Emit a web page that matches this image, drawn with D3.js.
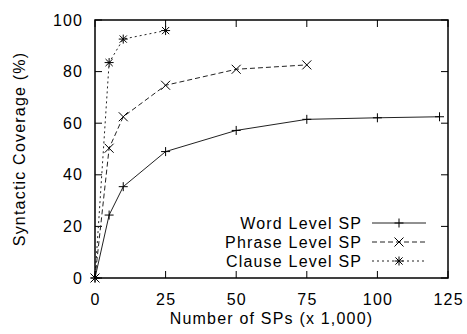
<!DOCTYPE html>
<html><head><meta charset="utf-8">
<script src="https://cdn.jsdelivr.net/npm/d3@7"></script>
<style>body{margin:0;background:#fff}svg text{font-family:"Liberation Sans",Arial,sans-serif;font-size:16px;letter-spacing:1.2px;fill:#000}</style>
</head><body>
<svg id="c" width="467" height="334"></svg>
<script>
const seriesNames = ["Word Level SP", "Phrase Level SP", "Clause Level SP"];
const wordX = [0, 5, 10, 25, 50, 75, 100, 122];
const wordY = [0, 24.4, 35.4, 49, 57.2, 61.5, 62.1, 62.5];
const phraseX = [0, 5, 10, 25, 50, 75];
const phraseY = [0, 50.3, 62.5, 74.7, 80.9, 82.6];
const clauseX = [0, 5, 10, 25];
const clauseY = [0, 83.5, 92.6, 95.9];
const xTicks = [0, 25, 50, 75, 100, 125];
const yTicks = [0, 20, 40, 60, 80, 100];

const svg = d3.select("#c");
const L = 95, R = 448, T = 20, B = 278;
const x = d3.scaleLinear().domain([0, 125]).range([L, R]);
const y = d3.scaleLinear().domain([0, 100]).range([B, T]);

const series = [
  {name: seriesNames[0], xs: wordX, ys: wordY, dash: null, marker: "plus"},
  {name: seriesNames[1], xs: phraseX, ys: phraseY, dash: "5,3", marker: "cross"},
  {name: seriesNames[2], xs: clauseX, ys: clauseY, dash: "2,3", marker: "star"}
];

function txt(px, py, s, anchor, rot) {
  return svg.append("text")
    .attr("transform", `translate(${px},${py})${rot ? " rotate(" + rot + ")" : ""}`)
    .attr("text-anchor", anchor).text(s);
}

// ticks (inward, all sides)
const tl = 7;
const g = svg.append("g").attr("stroke", "#000").attr("stroke-width", 1);
xTicks.forEach(v => {
  g.append("line").attr("x1", x(v)).attr("x2", x(v)).attr("y1", B).attr("y2", B - tl);
  g.append("line").attr("x1", x(v)).attr("x2", x(v)).attr("y1", T).attr("y2", T + tl);
});
yTicks.forEach(v => {
  g.append("line").attr("x1", L).attr("x2", L + tl).attr("y1", y(v)).attr("y2", y(v));
  g.append("line").attr("x1", R).attr("x2", R - tl).attr("y1", y(v)).attr("y2", y(v));
});

// tick labels
xTicks.forEach(v => txt(x(v) + 0.6, 305, v, "middle"));
yTicks.forEach(v => txt(83.2, y(v) + 5.5, v, "end"));

// axis titles
txt((L + R) / 2, 324.3, "Number of SPs (x 1,000)", "middle");
txt(25, (T + B) / 2, "Syntactic Coverage (%)", "middle", -90);

function drawMarker(sel, type, cx, cy) {
  const s = 4.5;
  const gg = sel.append("g").attr("stroke", "#000").attr("stroke-width", 1).attr("fill", "none");
  if (type === "plus" || type === "star") {
    gg.append("line").attr("x1", cx - s).attr("x2", cx + s).attr("y1", cy).attr("y2", cy);
    gg.append("line").attr("x1", cx).attr("x2", cx).attr("y1", cy - s).attr("y2", cy + s);
  }
  if (type === "cross" || type === "star") {
    const d = type === "star" ? s * 0.8 : s;
    gg.append("line").attr("x1", cx - d).attr("x2", cx + d).attr("y1", cy - d).attr("y2", cy + d);
    gg.append("line").attr("x1", cx - d).attr("x2", cx + d).attr("y1", cy + d).attr("y2", cy - d);
  }
}

const line = d3.line().x(d => x(d[0])).y(d => y(d[1]));
series.forEach(s => {
  const pts = s.xs.map((v, i) => [v, s.ys[i]]);
  svg.append("path").attr("d", line(pts)).attr("fill", "none").attr("stroke", "#222")
    .attr("stroke-width", 1).attr("stroke-dasharray", s.dash);
  pts.forEach(p => drawMarker(svg, s.marker, x(p[0]), y(p[1])));
});

// legend
const ly = [223, 242, 261];
series.forEach((s, i) => {
  txt(362.2, ly[i] + 5.5, s.name, "end");
  svg.append("line").attr("x1", 372).attr("x2", 426).attr("y1", ly[i]).attr("y2", ly[i])
    .attr("stroke", "#222").attr("stroke-width", 1).attr("stroke-dasharray", s.dash);
  drawMarker(svg, s.marker, 399, ly[i]);
});

// frame
svg.append("rect").attr("x", L).attr("y", T).attr("width", R - L).attr("height", B - T)
  .attr("fill", "none").attr("stroke", "#000").attr("stroke-width", 1.5);
</script>
</body></html>
